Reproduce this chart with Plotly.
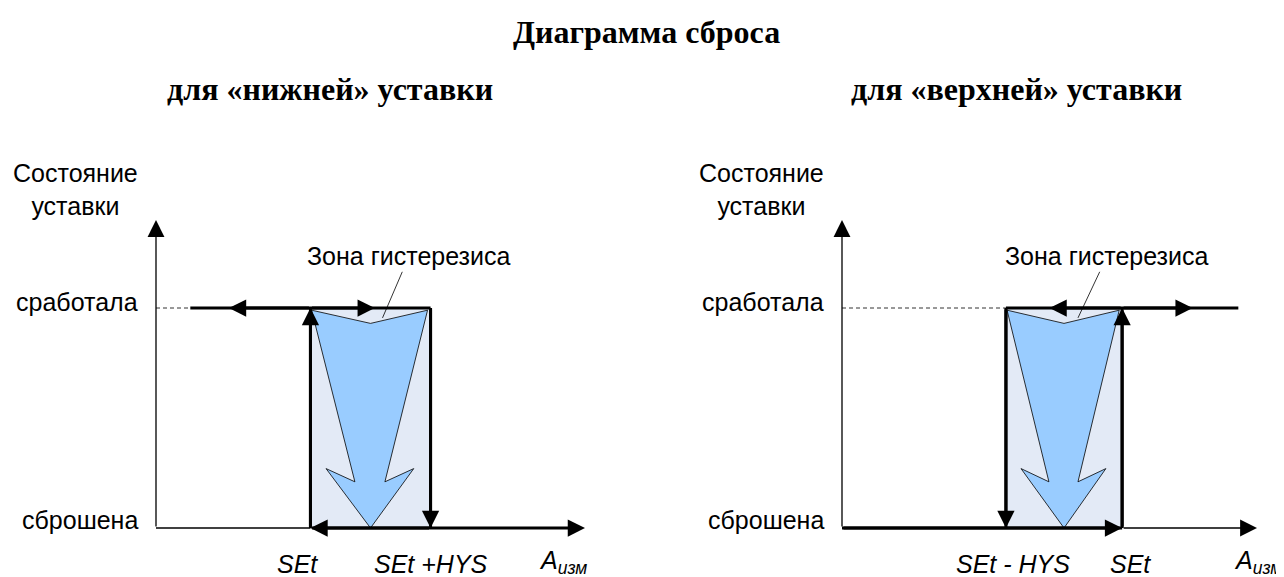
import plotly.graph_objects as go

# vertical axis: setpoint state
state_values = [0, 1]
state_labels = ["сброшена", "сработала"]
state_title = "Состояние<br>уставки"
y_axis_top = 1.4
x_axis_end = 10.0

# "нижняя" уставка (left diagram)
low_set = 3.6
low_hys = 2.8
low_on_start = 0.8           # bold "сработала" line starts here
low_on_arrows = [1.7, 5.1]   # heads of direction arrows on the "сработала" line
low_tick_labels = ["<i>SEt</i>", "<i>SEt +HYS</i>"]

# "верхняя" уставка (right diagram)
high_set = 6.75
high_hys = 2.8
high_on_end = 9.55
high_on_arrows = [5.0, 8.45]
high_tick_labels = ["<i>SEt - HYS</i>", "<i>SEt</i>"]

x_label = "<i>A<sub>изм</sub></i>"
zone_label = "Зона гистерезиса"
title = "Диаграмма сброса"
subtitles = ["для «нижней» уставки", "для «верхней» уставки"]

# big "reset" arrow outline, as fractions of the hysteresis zone (x) and of the state (y)
reset_fx = [0.01, 0.37, 0.13, 0.5, 0.86, 0.62, 0.975, 0.5, 0.01]
reset_fy = [0.99, 0.21, 0.27, 0.0, 0.27, 0.21, 0.99, 0.93, 0.99]

SANS = "Liberation Sans, Arial, sans-serif"
SERIF = "Liberation Serif, Times New Roman, serif"
ZONE_FILL = "#E3EAF6"
ARROW_FILL = "#99CCFF"
BOLD = 3
THIN = 1.3
W, H = 1284, 577
OFF = 8          # page body margin
PX_X = [42.9, 41.5]   # px per x unit, left / right diagram
ORIGIN_X = [156 - OFF, 842 - OFF]
ORIGIN_Y = 528 - OFF
PX_Y = 220

fig = go.Figure()
annotations = []


def arrow(xr, yr, x0, y0, x1, y1, width):
    size = 1.15 if width >= 2 else 2.6
    annotations.append(dict(
        x=x1, y=y1, ax=x0, ay=y0, xref=xr, yref=yr, axref=xr, ayref=yr,
        text="", showarrow=True, arrowhead=2, arrowsize=size,
        arrowwidth=width, arrowcolor="black", standoff=0,
    ))


def line(xr, yr, xs, ys, width, dash="solid", color="black"):
    fig.add_trace(go.Scatter(
        x=xs, y=ys, xaxis=xr, yaxis=yr, mode="lines",
        line=dict(color=color, width=width, dash=dash),
        hoverinfo="skip", showlegend=False,
    ))


def zone(xr, yr, z0, z1):
    lo, hi = state_values
    fig.add_trace(go.Scatter(
        x=[z0, z1, z1, z0, z0], y=[lo, lo, hi, hi, lo], xaxis=xr, yaxis=yr,
        mode="lines", fill="toself", fillcolor=ZONE_FILL, line=dict(width=0),
        hoverinfo="skip", showlegend=False,
    ))
    w = z1 - z0
    fig.add_trace(go.Scatter(
        x=[z0 + f * w for f in reset_fx], y=[lo + f * (hi - lo) for f in reset_fy],
        xaxis=xr, yaxis=yr, mode="lines", fill="toself", fillcolor=ARROW_FILL,
        line=dict(color="black", width=0.8),
        hoverinfo="skip", showlegend=False,
    ))


def frame(xr, yr, shift_lbl):
    lo, hi = state_values
    arrow(xr, yr, 0, lo, 0, y_axis_top, THIN)
    annotations.append(dict(
        x=0, y=1.54, xref=xr, yref=yr, text=state_title, showarrow=False,
        xanchor="right", xshift=-16, yanchor="middle", align="center",
        font=dict(family=SANS, size=25, color="black"),
    ))
    for v, t, dy in zip(state_values, state_labels, [8, 6]):
        annotations.append(dict(
            x=0, y=v, xref=xr, yref=yr, text=t, showarrow=False,
            xanchor="right", xshift=-16, yshift=dy, yanchor="middle",
            font=dict(family=SANS, size=25, color="black"),
        ))
    annotations.append(dict(
        x=x_axis_end, y=lo, xref=xr, yref=yr, text=x_label, showarrow=False,
        xanchor="center", xshift=shift_lbl, yshift=-34, yanchor="middle",
        font=dict(family=SANS, size=25, color="black"),
    ))


def tick_label(xr, yr, x, text, dx):
    annotations.append(dict(
        x=x, y=state_values[0], xref=xr, yref=yr, text=text, showarrow=False,
        xanchor="center", xshift=dx, yshift=-36, yanchor="middle",
        font=dict(family=SANS, size=25, color="black"),
    ))


def zone_note(xr, yr, z0, z1, f_point, f_text):
    w = z1 - z0
    annotations.append(dict(
        x=z0 + f_point * w, y=0.955, ax=z0 + f_text * w, ay=1.235,
        xref=xr, yref=yr, axref=xr, ayref=yr,
        text=zone_label, showarrow=True, arrowhead=0, arrowwidth=0.8,
        arrowcolor="black", standoff=0,
        font=dict(family=SANS, size=25, color="black"),
    ))


lo, hi = state_values
DASH = "4px,3px"

# ---- left: "нижняя" уставка ----
z0, z1 = low_set, low_set + low_hys
zone("x", "y", z0, z1)
line("x", "y", [0, z0], [lo, lo], THIN)
line("x", "y", [0, low_on_start], [hi, hi], 1, dash=DASH, color="#333333")
line("x", "y", [low_on_start, z1], [hi, hi], BOLD)
line("x", "y", [z0, z0], [lo, hi], BOLD)
line("x", "y", [z1, z1], [lo, hi], BOLD)
frame("x", "y", -22)
arrow("x", "y", z0, lo, x_axis_end, lo, BOLD)
arrow("x", "y", z1, lo, z0, lo, BOLD)
arrow("x", "y", z0, lo, z0, hi, BOLD)
arrow("x", "y", z1, hi, z1, lo, BOLD)
for xa in low_on_arrows:
    arrow("x", "y", z0, hi, xa, hi, BOLD)
tick_label("x", "y", z0, low_tick_labels[0], -13)
tick_label("x", "y", z1, low_tick_labels[1], 0)
zone_note("x", "y", z0, z1, 0.6, 0.82)

# ---- right: "верхняя" уставка ----
z0, z1 = high_set - high_hys, high_set
zone("x2", "y2", z0, z1)
line("x2", "y2", [0, z0], [hi, hi], 1, dash=DASH, color="#333333")
line("x2", "y2", [z0, high_on_end], [hi, hi], BOLD)
line("x2", "y2", [0, z1], [lo, lo], BOLD)
line("x2", "y2", [z0, z0], [lo, hi], BOLD)
line("x2", "y2", [z1, z1], [lo, hi], BOLD)
frame("x2", "y2", 1)
arrow("x2", "y2", 0, lo, z1, lo, BOLD)
arrow("x2", "y2", z1, lo, x_axis_end, lo, THIN)
arrow("x2", "y2", z0, hi, z0, lo, BOLD)
arrow("x2", "y2", z1, lo, z1, hi, BOLD)
for xa in high_on_arrows:
    arrow("x2", "y2", z1, hi, xa, hi, BOLD)
tick_label("x2", "y2", z0, high_tick_labels[0], 7)
tick_label("x2", "y2", z1, high_tick_labels[1], 8)
zone_note("x2", "y2", z0, z1, 0.62, 0.87)

# titles (positions in page pixels)
annotations.append(dict(
    x=(646 - OFF) / W, y=1 - (32 - OFF) / H, xref="paper", yref="paper",
    text=f"<b>{title}</b>", showarrow=False, xanchor="center", yanchor="middle",
    font=dict(family=SERIF, size=32, color="black"),
))
for xp, t in zip([330, 1016], subtitles):
    annotations.append(dict(
        x=(xp - OFF) / W, y=1 - (89 - OFF) / H, xref="paper", yref="paper",
        text=f"<b>{t}</b>", showarrow=False, xanchor="center", yanchor="middle",
        font=dict(family=SERIF, size=32, color="black"),
    ))

hidden = dict(visible=False, showgrid=False, zeroline=False, fixedrange=True)
half = W / 2
fig.update_layout(
    width=W, height=H,
    margin=dict(l=0, r=0, t=0, b=0),
    paper_bgcolor="white", plot_bgcolor="white",
    showlegend=False,
    xaxis=dict(domain=[0, 0.5],
               range=[-ORIGIN_X[0] / PX_X[0], (half - ORIGIN_X[0]) / PX_X[0]], **hidden),
    xaxis2=dict(domain=[0.5, 1],
                range=[-(ORIGIN_X[1] - half) / PX_X[1], (W - ORIGIN_X[1]) / PX_X[1]], **hidden),
    yaxis=dict(anchor="x", range=[-(H - ORIGIN_Y) / PX_Y, ORIGIN_Y / PX_Y], **hidden),
    yaxis2=dict(anchor="x2", range=[-(H - ORIGIN_Y) / PX_Y, ORIGIN_Y / PX_Y], **hidden),
    annotations=annotations,
)

fig.write_html("out.html")
